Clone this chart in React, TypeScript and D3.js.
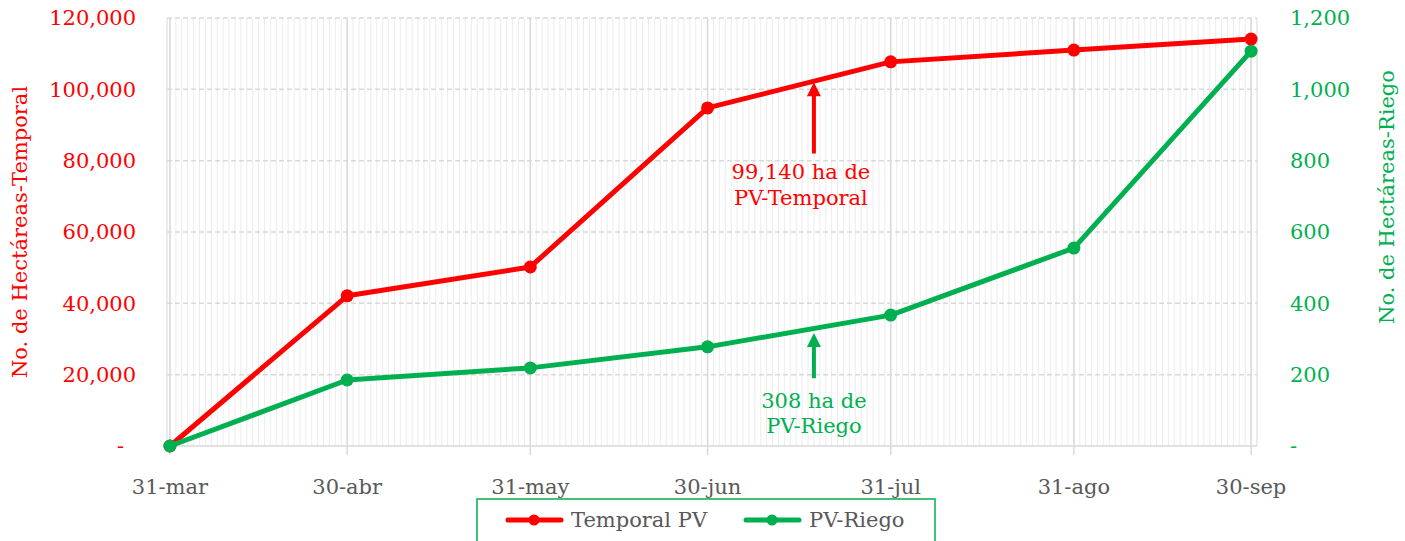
import React from "react";
import * as d3 from "d3";

const dates = ["2020-03-31", "2020-04-30", "2020-05-31", "2020-06-30", "2020-07-31", "2020-08-31", "2020-09-30"];
const tickLabels = ["31-mar", "30-abr", "31-may", "30-jun", "31-jul", "31-ago", "30-sep"];
const temporal = [0, 42100, 50200, 94800, 107700, 111000, 114100];
const riego = [0, 185, 219, 278, 367, 555, 1107];
const leftTicks = [0, 20000, 40000, 60000, 80000, 100000, 120000];
const rightTicks = [0, 200, 400, 600, 800, 1000, 1200];
const annotationDate = "2020-07-18";
const annTemporal = { tip: 102000, tail: 82000, lines: ["99,140 ha de", "PV-Temporal"] };
const annRiego = { tip: 317, tail: 190, lines: ["308 ha de", "PV-Riego"] };

const RED = "#ff0000";
const GREEN = "#00b050";
const GRAY = "#595959";
const FONT = "'DejaVu Serif', serif";
const FS = 21;

const W = 1405;
const H = 541;
const parse = d3.utcParse("%Y-%m-%d");

export default function App() {
  const x = d3
    .scaleUtc()
    .domain([d3.utcHour.offset(parse("2020-03-30")!, 12), parse("2020-10-01")!])
    .range([167, 1257]);
  const yL = d3.scaleLinear().domain([0, 120000]).range([446, 18]);
  const yR = d3.scaleLinear().domain([0, 1200]).range([446, 18]);
  const fmt = (v: number) => (v === 0 ? "-" : d3.format(",")(v));

  const days = d3.utcDay.range(parse("2020-03-31")!, parse("2020-10-01")!);
  const pts = dates.map((d) => parse(d)!);

  const lineL = d3
    .line<number>()
    .x((_, i) => x(pts[i]))
    .y((v) => yL(v));
  const lineR = d3
    .line<number>()
    .x((_, i) => x(pts[i]))
    .y((v) => yR(v));

  const ax = x(parse(annotationDate)!);
  const [x0, x1] = x.range();

  const arrow = (tipY: number, tailY: number, color: string) => (
    <g>
      <line x1={ax} x2={ax} y1={tailY} y2={tipY + 12} stroke={color} strokeWidth={4} />
      <path d={`M${ax},${tipY} L${ax - 7},${tipY + 14} L${ax + 7},${tipY + 14} Z`} fill={color} />
    </g>
  );

  return (
    <svg width={W} height={H} style={{ position: "absolute", left: 0, top: 0, background: "#fff" }} fontFamily={FONT}>
      {/* minor daily grid */}
      {days.map((d, i) => (
        <line key={"m" + i} x1={x(d)} x2={x(d)} y1={18} y2={446} stroke="#ececec" strokeWidth={1} />
      ))}
      <line x1={x0} x2={x0} y1={18} y2={446} stroke="#d9d9d9" />
      <line x1={x1} x2={x1} y1={18} y2={446} stroke="#d9d9d9" />
      {/* horizontal grid */}
      {leftTicks.slice(1).map((t) => (
        <line key={"h" + t} x1={x0} x2={x1} y1={yL(t)} y2={yL(t)} stroke="#d9d9d9" strokeWidth={1.5} strokeDasharray="5,3" />
      ))}
      {/* major vertical grid */}
      {pts.map((d, i) => (
        <line key={"v" + i} x1={x(d)} x2={x(d)} y1={18} y2={455} stroke="#d9d9d9" strokeWidth={1.5} />
      ))}
      <line x1={x0} x2={x1} y1={446} y2={446} stroke="#d9d9d9" strokeWidth={1.5} />

      {/* axes labels */}
      {leftTicks.map((t) => (
        <text key={"l" + t} x={t === 0 ? 124 : 136} y={yL(t)} dy="0.35em" textAnchor="end" fill={RED} fontSize={FS}>
          {fmt(t)}
        </text>
      ))}
      {rightTicks.map((t) => (
        <text key={"r" + t} x={1290} y={yR(t)} dy="0.35em" textAnchor="start" fill={GREEN} fontSize={FS}>
          {fmt(t)}
        </text>
      ))}
      {pts.map((d, i) => (
        <text key={"x" + i} x={x(d)} y={494} textAnchor="middle" fill={GRAY} fontSize={FS}>
          {tickLabels[i]}
        </text>
      ))}
      <text transform="translate(27,232) rotate(-90)" textAnchor="middle" fill={RED} fontSize={FS}>
        No. de Hectáreas-Temporal
      </text>
      <text transform="translate(1394,197) rotate(-90)" textAnchor="middle" fill={GREEN} fontSize={FS}>
        No. de Hectáreas-Riego
      </text>

      {/* series */}
      <path d={lineL(temporal)!} fill="none" stroke={RED} strokeWidth={5} strokeLinejoin="round" />
      {temporal.map((v, i) => (
        <circle key={"tc" + i} cx={x(pts[i])} cy={yL(v)} r={6.5} fill={RED} />
      ))}
      <path d={lineR(riego)!} fill="none" stroke={GREEN} strokeWidth={5} strokeLinejoin="round" />
      {riego.map((v, i) => (
        <circle key={"rc" + i} cx={x(pts[i])} cy={yR(v)} r={6.5} fill={GREEN} />
      ))}

      {/* annotations */}
      {arrow(yL(annTemporal.tip), yL(annTemporal.tail), RED)}
      {annTemporal.lines.map((s, i) => (
        <text key={"at" + i} x={ax - 13} y={yL(annTemporal.tail) + 25 + i * 26} textAnchor="middle" fill={RED} fontSize={FS}>
          {s}
        </text>
      ))}
      {arrow(yR(annRiego.tip), yR(annRiego.tail), GREEN)}
      {annRiego.lines.map((s, i) => (
        <text key={"ar" + i} x={ax} y={yR(annRiego.tail) + 30 + i * 25} textAnchor="middle" fill={GREEN} fontSize={FS}>
          {s}
        </text>
      ))}

      {/* legend */}
      <rect x={477} y={499} width={458} height={60} fill="#fff" stroke={GREEN} strokeWidth={1.5} />
      <line x1={508} x2={561} y1={520} y2={520} stroke={RED} strokeWidth={5} strokeLinecap="round" />
      <circle cx={534} cy={520} r={5.5} fill={RED} />
      <text x={571} y={527} fill={GRAY} fontSize={FS}>Temporal PV</text>
      <line x1={746} x2={799} y1={520} y2={520} stroke={GREEN} strokeWidth={5} strokeLinecap="round" />
      <circle cx={772} cy={520} r={5.5} fill={GREEN} />
      <text x={809} y={527} fill={GRAY} fontSize={FS}>PV-Riego</text>
    </svg>
  );
}
